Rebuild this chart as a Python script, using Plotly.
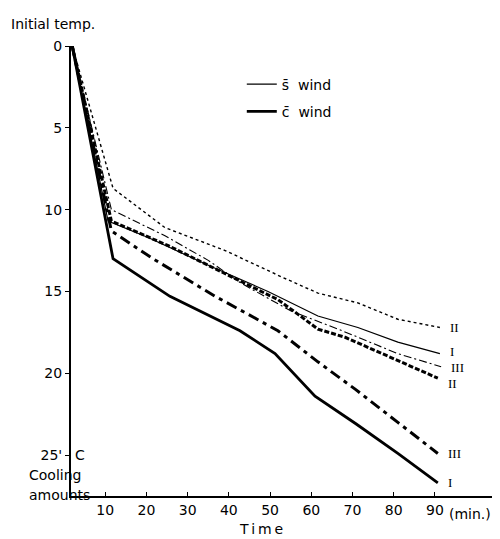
import plotly.graph_objects as go

# ---- data (time in min, cooling amount in deg C) ----
t_s1 = [2, 10.7, 20.4, 35, 49.5, 61.6, 71.3, 81, 91.2]
v_s1 = [0, 10.7, 11.7, 13.4, 15.0, 16.5, 17.2, 18.1, 18.8]

t_s2 = [2, 11.9, 24.5, 39.1, 52.7, 61.6, 71.3, 81, 91.2]
v_s2 = [0, 8.7, 11.1, 12.5, 14.1, 15.1, 15.7, 16.7, 17.2]

t_s3 = [2, 11.5, 24.5, 35, 43, 55.1, 66.5, 81, 91.5]
v_s3 = [0, 10.0, 11.6, 13.1, 14.5, 16.2, 17.3, 18.8, 19.6]

t_c1 = [2, 11.9, 25.7, 42.7, 51.2, 60.9, 70.9, 81, 90.7]
v_c1 = [0, 13.0, 15.3, 17.4, 18.8, 21.4, 23.1, 24.9, 26.7]

t_c2 = [2, 11.5, 25.3, 43, 51.9, 56.8, 61.6, 68.2, 81, 90.7]
v_c2 = [0, 10.7, 12.2, 14.4, 15.5, 16.4, 17.3, 17.8, 19.2, 20.3]

t_c3 = [2, 11.5, 21.6, 36.7, 44.7, 51.9, 61.6, 70.8, 81, 90.7]
v_c3 = [0, 11.3, 13.0, 15.3, 16.4, 17.4, 19.3, 21.0, 23.0, 24.9]

x_ticks = [10, 20, 30, 40, 50, 60, 70, 80, 90]
y_ticks = [0, 5, 10, 15, 20, 25]
y_ticktext = ["0", "5", "10", "15", "20", "25'"]

series = [
    # (times, values, numeral, width, dash, legend name, label nudge)
    (t_s1, v_s1, "I", 1.2, "solid", "s\u0304  wind", 2),
    (t_s2, v_s2, "II", 1.4, "dot", None, 0),
    (t_s3, v_s3, "III", 1.1, "8px,3px,2px,3px", None, -1),
    (t_c1, v_c1, "I", 2.8, "solid", "c\u0304  wind", 0),
    (t_c2, v_c2, "II", 3.0, "5px,2px", None, -5),
    (t_c3, v_c3, "III", 3.0, "11px,5px,4px,5px", None, 0),
]

FONT = "DejaVu Sans"
fig = go.Figure()
annotations = []
for i, (t, v, num, w, dash, name, nudge) in enumerate(series):
    fig.add_trace(go.Scatter(
        x=t, y=v, mode="lines",
        line=dict(color="black", width=w, dash=dash),
        name=name if name else num,
        showlegend=name is not None,
        legendgroup="g%d" % i,
        hoverinfo="skip",
    ))
    annotations.append(dict(
        x=t[-1], y=v[-1], xref="x", yref="y", text=num, showarrow=False,
        xanchor="left", yanchor="middle", xshift=8, yshift=nudge,
        font=dict(family="Liberation Serif", size=13, color="black"),
    ))

annotations += [
    dict(x=-0.145, y=1.048, xref="paper", yref="paper", text="Initial temp.",
         showarrow=False, xanchor="left", yanchor="middle",
         font=dict(family=FONT, size=14, color="black")),
    dict(x=0, y=25, xref="paper", yref="y", text="C", showarrow=False,
         xanchor="left", yanchor="middle", xshift=2,
         font=dict(family=FONT, size=14, color="black")),
    dict(x=-0.103, y=0.047, xref="paper", yref="paper", text="Cooling",
         showarrow=False, xanchor="left", yanchor="middle",
         font=dict(family=FONT, size=14, color="black")),
    dict(x=-0.103, y=0.003, xref="paper", yref="paper", text="amounts",
         showarrow=False, xanchor="left", yanchor="middle",
         font=dict(family=FONT, size=14, color="black")),
    dict(x=90, y=-0.04, xref="x", yref="paper", text="(min.)",
         showarrow=False, xanchor="left", yanchor="middle", xshift=12,
         font=dict(family=FONT, size=14, color="black")),
    dict(x=0.445, y=-0.074, xref="paper", yref="paper",
         text="T\u2009i\u2009m\u2009e",
         showarrow=False, xanchor="center", yanchor="middle",
         font=dict(family=FONT, size=14, color="black")),
]

fig.update_layout(
    width=500, height=539,
    margin=dict(l=63, r=10, t=38, b=51),
    paper_bgcolor="white", plot_bgcolor="white",
    font=dict(family=FONT, size=14, color="black"),
    showlegend=True,
    legend=dict(x=0.4, y=0.95, xanchor="left", yanchor="top",
                bgcolor="rgba(0,0,0,0)", tracegroupgap=6,
                font=dict(family=FONT, size=14, color="black")),
    annotations=annotations,
)
fig.update_xaxes(
    range=[1.7, 105.3], showgrid=False, zeroline=False,
    showline=True, linecolor="black", linewidth=1.5,
    tickvals=x_ticks, ticks="inside", ticklen=4, tickcolor="black",
    tickfont=dict(family=FONT, size=14, color="black"),
)
fig.update_yaxes(
    range=[27.5, 0], showgrid=False, zeroline=False,
    showline=True, linecolor="black", linewidth=2,
    tickvals=y_ticks, ticktext=y_ticktext, ticks="outside", ticklen=4,
    tickcolor="black", tickfont=dict(family=FONT, size=14, color="black"),
)

fig.write_html("out.html")
